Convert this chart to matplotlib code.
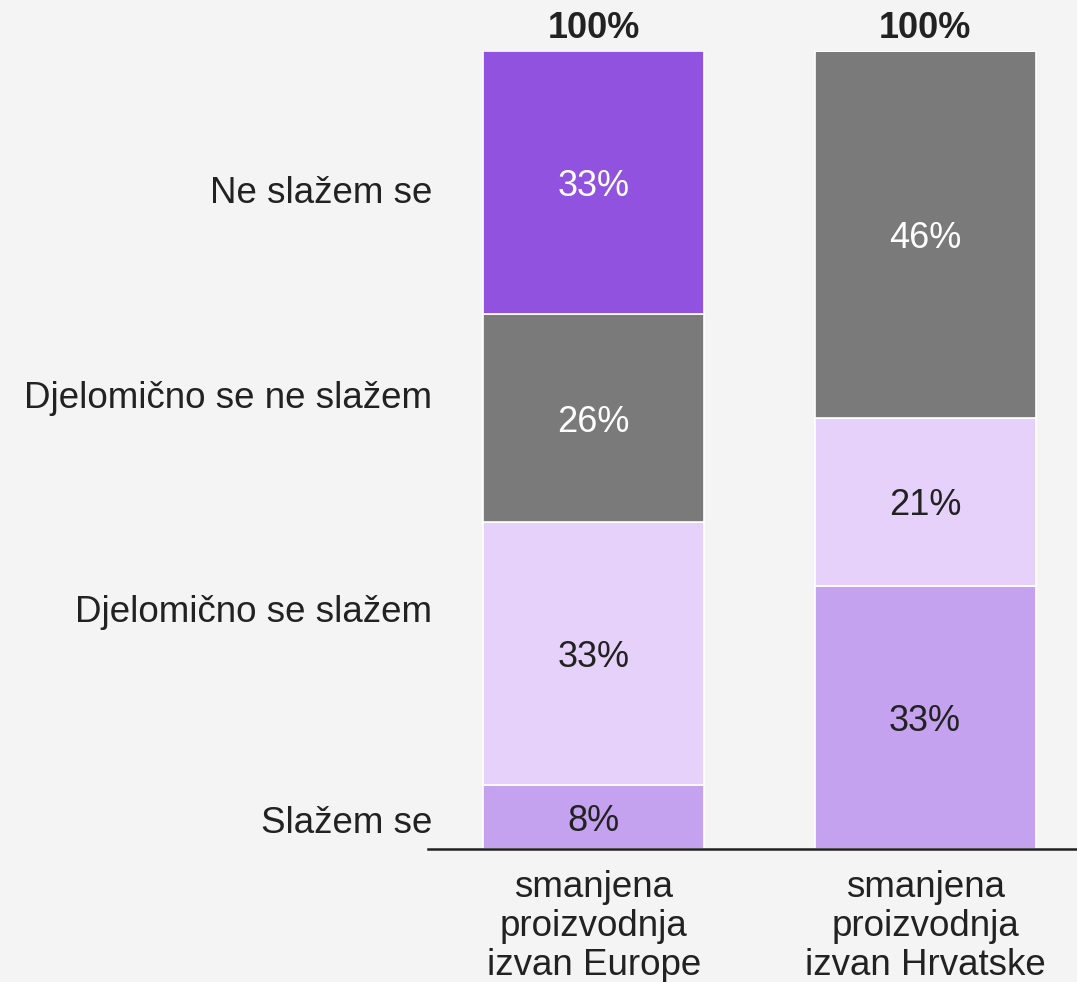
import matplotlib
matplotlib.use('Agg')
import matplotlib.pyplot as plt
from matplotlib import font_manager
import matplotlib.transforms as mtransforms
import numpy as np

plt.rcParams['font.family'] = ['Liberation Sans', 'DejaVu Sans']

# Data
categories = ['smanjena\nproizvodnja\nizvan Europe', 'smanjena\nproizvodnja\nizvan Hrvatske']
answers = ['Slažem se', 'Djelomično se slažem', 'Djelomično se ne slažem', 'Ne slažem se']
values = {
    'Slažem se': [8, 33],
    'Djelomično se slažem': [33, 21],
    'Djelomično se ne slažem': [26, 46],
    'Ne slažem se': [33, 0],
}
totals = ['100%', '100%']

colors = {
    'Slažem se': '#C5A2F0',
    'Djelomično se slažem': '#E6D1FA',
    'Djelomično se ne slažem': '#7A7A7A',
    'Ne slažem se': '#9152E0',
}
text_colors = {
    'Slažem se': '#222222',
    'Djelomično se slažem': '#222222',
    'Djelomično se ne slažem': 'white',
    'Ne slažem se': 'white',
}
# baseline of the row labels on the left (data units)
label_y = {
    'Slažem se': 2.0,
    'Djelomično se slažem': 28.4,
    'Djelomično se ne slažem': 55.3,
    'Ne slažem se': 81.0,
}

names = {f.name for f in font_manager.fontManager.ttflist}
bold_family = 'Liberation Sans Narrow' if 'Liberation Sans Narrow' in names else 'Liberation Sans'

bg = '#F4F4F4'
fig = plt.figure(figsize=(10.77, 9.82), dpi=100, facecolor=bg)
ax = fig.add_axes([428 / 1077, 133 / 982, 649 / 1077, 798 / 982])
ax.set_facecolor(bg)

x = np.arange(len(categories))
bottom = np.zeros(len(categories))
for ans in answers:
    vals = np.array(values[ans], dtype=float)
    ax.bar(x, vals, width=0.667, bottom=bottom, color=colors[ans],
           edgecolor='white', linewidth=1.2)
    for xi, v, b in zip(x, vals, bottom):
        if v > 0:
            ax.text(xi, b + v / 2, f'{int(v)}%', ha='center', va='center_baseline',
                    fontsize=26, color=text_colors[ans])
    bottom += vals

for xi, tot, t in zip(x, bottom, totals):
    ax.text(xi, tot + 1.6, t, ha='center', va='baseline', fontsize=26,
            fontweight='bold', color='#222222', family=bold_family)

trans = mtransforms.blended_transform_factory(ax.transAxes, ax.transData)
for ans in answers:
    ax.text(0.006, label_y[ans], ans, transform=trans, ha='right', va='baseline',
            fontsize=26.5, color='#222222')

ax.set_xlim(-0.5, 1.4585)
ax.set_ylim(0, 100)
ax.set_xticks(x)
ax.set_xticklabels(categories, fontsize=26.5, color='#222222', linespacing=1.15)
ax.tick_params(axis='x', length=0, pad=15)
ax.set_yticks([])
for s in ['top', 'right', 'left']:
    ax.spines[s].set_visible(False)
ax.spines['bottom'].set_color('#222222')
ax.spines['bottom'].set_linewidth(1.8)

fig.savefig('out.png', dpi=100, facecolor=bg)
